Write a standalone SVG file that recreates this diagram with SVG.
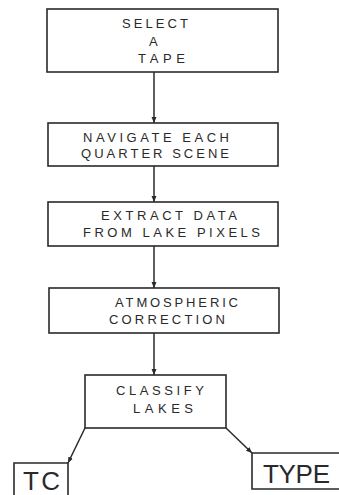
<svg xmlns="http://www.w3.org/2000/svg" width="339" height="495" viewBox="0 0 339 495">
<style>
.box{fill:none;stroke:#2a2a2a;stroke-width:1.6}
.c{fill:none;stroke:#2a2a2a;stroke-width:1.5}
text{font-family:"Liberation Sans",Arial,sans-serif;fill:#2a2a2a}
.s{font-size:13px}
.b{font-size:26px}
</style>
<defs>
<marker id="ah" markerUnits="userSpaceOnUse" markerWidth="8" markerHeight="8" refX="6" refY="3" orient="auto">
<path d="M0,0.5 L6,3 L0,5.5 z" fill="#2a2a2a"/>
</marker>
</defs>
<rect width="339" height="495" fill="#ffffff"/>
<g id="connectors">
<line class="c" x1="154" y1="72" x2="154" y2="123" marker-end="url(#ah)"/>
<line class="c" x1="154" y1="166" x2="154" y2="202" marker-end="url(#ah)"/>
<line class="c" x1="154" y1="246" x2="154" y2="288" marker-end="url(#ah)"/>
<line class="c" x1="154" y1="333" x2="154" y2="375" marker-end="url(#ah)"/>
<line class="c" x1="85" y1="428" x2="68" y2="463" marker-end="url(#ah)"/>
<line class="c" x1="226" y1="428" x2="252" y2="453" marker-end="url(#ah)"/>
</g>
<g id="select-tape">
<rect class="box" x="47" y="9" width="231" height="63"/>
<text class="s" x="122" y="28" textLength="66" lengthAdjust="spacing">SELECT</text>
<text class="s" x="149" y="46">A</text>
<text class="s" x="138" y="63" textLength="47" lengthAdjust="spacing">TAPE</text>
</g>
<g id="navigate">
<rect class="box" x="48" y="123" width="230" height="43"/>
<text class="s" x="83" y="142" textLength="146" lengthAdjust="spacing">NAVIGATE EACH</text>
<text class="s" x="81" y="158" textLength="148" lengthAdjust="spacing">QUARTER SCENE</text>
</g>
<g id="extract">
<rect class="box" x="48" y="202" width="230" height="44"/>
<text class="s" x="101" y="220" textLength="136" lengthAdjust="spacing">EXTRACT DATA</text>
<text class="s" x="83" y="237" textLength="177" lengthAdjust="spacing">FROM LAKE PIXELS</text>
</g>
<g id="atmospheric">
<rect class="box" x="49" y="288" width="230" height="45"/>
<text class="s" x="115" y="307" textLength="123" lengthAdjust="spacing">ATMOSPHERIC</text>
<text class="s" x="109" y="324" textLength="116" lengthAdjust="spacing">CORRECTION</text>
</g>
<g id="classify">
<rect class="box" x="85" y="375" width="141" height="53"/>
<text class="s" x="116" y="395" textLength="88" lengthAdjust="spacing">CLASSIFY</text>
<text class="s" x="133" y="413" textLength="60" lengthAdjust="spacing">LAKES</text>
</g>
<g id="tc">
<path class="box" d="M14,497 V463 H68 V497"/>
<text class="b" x="23" y="490" textLength="37" lengthAdjust="spacing">TC</text>
</g>
<g id="type">
<path class="box" d="M341,453 H252 V489 H341"/>
<text class="b" x="263" y="483" textLength="67" lengthAdjust="spacing">TYPE</text>
</g>
</svg>
